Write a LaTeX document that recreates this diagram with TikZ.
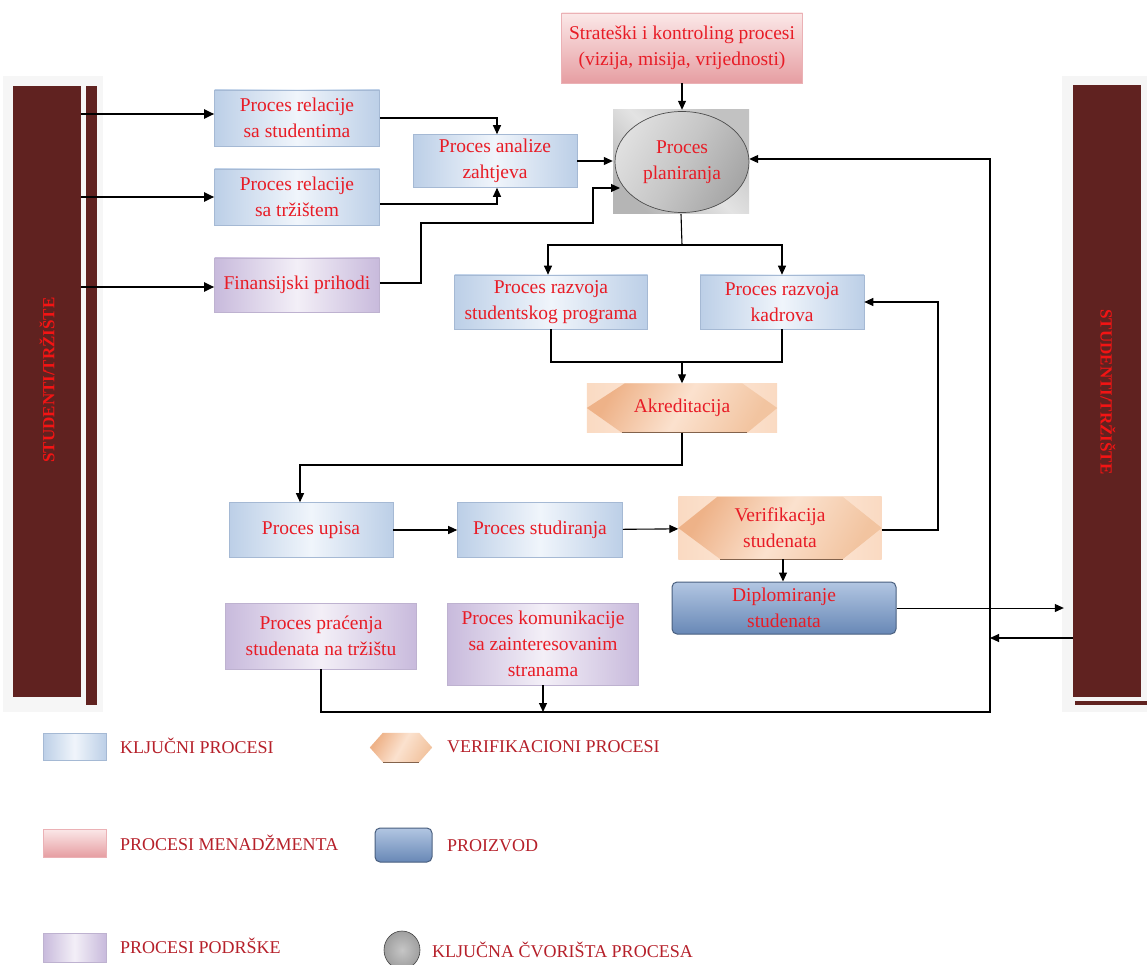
\documentclass[tikz,border=0pt]{standalone}
\usepackage{fontspec}
\setmainfont{Liberation Serif}
\usetikzlibrary{arrows.meta,shapes.geometric,calc}
\pgfdeclarelayer{background}
\pgfsetlayers{background,main}

\definecolor{txtred}{RGB}{232,28,38}
\definecolor{legred}{RGB}{182,32,42}
\definecolor{barc}{RGB}{96,34,32}
\definecolor{bartxt}{RGB}{242,20,20}
\definecolor{blueA}{RGB}{240,245,251}
\definecolor{blueB}{RGB}{188,207,231}
\definecolor{blueEdge}{RGB}{165,185,212}
\definecolor{pinkA}{RGB}{251,232,232}
\definecolor{pinkB}{RGB}{230,158,162}
\definecolor{purA}{RGB}{243,239,247}
\definecolor{purB}{RGB}{200,186,220}
\definecolor{purEdge}{RGB}{190,178,208}
\definecolor{orA}{RGB}{250,218,194}
\definecolor{orB}{RGB}{238,178,136}
\definecolor{orC}{RGB}{242,196,160}
\definecolor{prodA}{RGB}{178,198,226}
\definecolor{prodB}{RGB}{104,136,182}

\newcommand\boxfont{\fontsize{19.5}{26}\selectfont}
\newcommand\legfont{\fontsize{18}{20}\selectfont}

\begin{document}
\begin{tikzpicture}[x=1pt,y=-1pt,
  proc/.style={rectangle, align=center, text=txtred, font=\boxfont, inner sep=1pt},
  keyp/.style={proc, draw=blueEdge, line width=0.6pt,
    left color=blueB, right color=blueB, middle color=blueA},
  mgmt/.style={proc, draw=pinkB!80!white, line width=0.6pt,
    top color=pinkA, bottom color=pinkB},
  supp/.style={proc, draw=purEdge, line width=0.6pt,
    left color=purB, right color=purB, middle color=purA},
  prod/.style={proc, rounded corners=5pt, draw=prodB!70!black, line width=1pt,
    top color=prodA, bottom color=prodB},
  verif/.style={proc},
  barbox/.style={rectangle, fill=barc, inner sep=0pt},
  bartext/.style={text=bartxt, font=\fontsize{17}{18}\selectfont\bfseries, inner sep=0pt},
  legtext/.style={anchor=west, text=legred, font=\legfont, inner sep=0pt},
  arr/.style={draw=black, line width=1.1pt, -{Triangle[length=9pt,width=8pt]}},
  arrthick/.style={draw=black, line width=2pt, -{Triangle[length=10pt,width=9pt]}},
  link/.style={draw=black, line width=1.1pt},
  hexlight/.style={left color=orA, right color=orA, middle color=orA!50!white},
  hexdark/.style={left color=orB, right color=orC, middle color=orA!80!white, shading angle=60},
]
\useasboundingbox (0,0) rectangle (1147,965);
\begin{pgfonlayer}{background}
  \fill[white] (0,0) rectangle (1147,965);
\end{pgfonlayer}

% side panels
\fill[gray!7] (3,76) rectangle (103,712);
\fill[red!3!gray!8] (1062,76) rectangle (1147,712);
\node[barbox, minimum width=68pt, minimum height=611pt] (lbar) at (47,391.5) {};
\fill[barc] (86,86) rectangle (97,705);
\node[barbox, minimum width=68pt, minimum height=612pt] (rbar) at (1107,391) {};
\fill[barc] (1075,701) rectangle (1147,705);
\node[bartext, rotate=90] (ltxt) at (47,380) {STUDENTI/TRŽIŠTE};
\node[bartext, rotate=-90] (rtxt) at (1108,392) {STUDENTI/TRŽIŠTE};

% process boxes
\node[keyp, minimum width=165pt, minimum height=56pt] (rs) at (297,118) {Proces relacije\\sa studentima};
\node[keyp, minimum width=165pt, minimum height=56pt] (rt) at (297,197) {Proces relacije\\sa tržištem};
\node[supp, minimum width=165pt, minimum height=54pt] (fin) at (297,285) {Finansijski prihodi};
\node[keyp, minimum width=164pt, minimum height=53pt] (anz) at (495,161) {Proces analize\\zahtjeva};
\node[mgmt, minimum width=241pt, minimum height=70pt] (strat) at (682,48) {Strateški i kontroling procesi\\(vizija, misija, vrijednosti)};

% planning hub
\node[rectangle, minimum width=136pt, minimum height=104pt, inner sep=0pt,
  left color=gray!58, right color=gray!48, middle color=gray!22, shading angle=135] (plansq) at (681,162) {};
\node[ellipse, minimum width=134pt, minimum height=101pt, inner sep=0pt,
  left color=gray!25, right color=gray!70, middle color=gray!45, shading angle=60,
  draw=gray!60!black, line width=0.7pt,
  align=center, text=txtred, font=\boxfont] (plan) at (682,162) {Proces\\planiranja};

\node[keyp, minimum width=193pt, minimum height=54pt] (rsp) at (551,302) {Proces razvoja\\studentskog programa};
\node[keyp, minimum width=164pt, minimum height=54pt] (rkd) at (782,302) {Proces razvoja\\kadrova};
\node[verif, minimum width=190pt, minimum height=49pt] (akr) at (682,408) {Akreditacija};
\node[keyp, minimum width=164pt, minimum height=55pt] (upis) at (311,530) {Proces upisa};
\node[keyp, minimum width=165pt, minimum height=55pt] (stud) at (540,530) {Proces studiranja};
\node[verif, minimum width=203pt, minimum height=62pt] (ver) at (780,528) {Verifikacija\\studenata};
\node[prod, minimum width=224pt, minimum height=52pt] (dip) at (784,608) {Diplomiranje\\studenata};
\node[supp, minimum width=191pt, minimum height=66pt] (prac) at (321,636) {Proces praćenja\\studenata na tržištu};
\node[supp, minimum width=191pt, minimum height=82pt] (kom) at (543,644) {Proces komunikacije\\sa zainteresovanim\\stranama};

% hexagonal verification shapes, painted behind their labels
\begin{pgfonlayer}{background}
  \shade[hexlight] (akr.south west) rectangle (akr.north east);
  \shade[hexdark] (akr.west) -- ($(akr.north west)+(38,0)$) -- ($(akr.north east)+(-35,0)$)
    -- (akr.east) -- ($(akr.south east)+(-30,0)$) -- ($(akr.south west)+(35,0)$) -- cycle;
  \draw[orB!55!black, line width=1.2pt] ($(akr.south east)+(-30,0)$) -- ($(akr.south west)+(35,0)$);
  \shade[hexlight] (ver.south west) rectangle (ver.north east);
  \shade[hexdark] (ver.west) -- ($(ver.north west)+(39,0)$) -- ($(ver.north east)+(-39,0)$)
    -- (ver.east) -- ($(ver.south east)+(-39,0)$) -- ($(ver.south west)+(42,0)$) -- cycle;
  \draw[orB!55!black, line width=1.2pt] ($(ver.south east)+(-39,0)$) -- ($(ver.south west)+(42,0)$);
\end{pgfonlayer}

% inputs from the left panel
\draw[arrthick] ([yshift=4pt]lbar.east |- rs.west) -- ([yshift=4pt]rs.west);
\draw[arrthick] (lbar.east |- rt.west) -- (rt.west);
\draw[arrthick] ([yshift=-2pt]lbar.east |- fin.west) -- ([yshift=-2pt]fin.west);

% towards analysis and planning
\draw[arr] (rs.east) -| ([xshift=2pt]anz.north);
\draw[arr] ([yshift=-7pt]rt.east) -| ([xshift=2pt]anz.south);
\coordinate (fa) at (421,223);
\coordinate (fb) at (593,188);
\coordinate (fc) at (620,188);
\draw[arr] ([yshift=2pt]fin.east) -| (fa) -| (fb) -- (fc);
\draw[arr] (anz.east) -- (anz.east -| plansq.west);
\draw[arr] (strat.south) -- (strat.south |- plansq.north);

% planning to development
\coordinate (pd) at (682,245);
\draw[link] (plansq.south) -- (pd);
\draw[arr] (pd) -| ([xshift=-3pt]rsp.north);
\draw[arr] (pd) -| (rkd.north);
\coordinate (mg) at (682,362);
\draw[link] (rsp.south) |- (mg);
\draw[link] (rkd.south) |- (mg);
\draw[arr] (mg) -- (akr.north);

% study flow
\coordinate (au) at (682,465);
\draw[arr] (akr.south) -- (au) -| ([xshift=-11pt]upis.north);
\draw[arr] (upis) -- (stud);
\draw[arr] (stud) -- (ver);
\coordinate (vk) at (938,530);
\draw[arr] ([yshift=-2pt]ver.east) -- (vk) |- (rkd.east);
\draw[arr] ([xshift=3pt]ver.south) -- ([xshift=3pt]ver.south |- dip.north);

% outputs and feedback
\draw[arr, line width=1pt] (dip.east) -- ([xshift=-9pt]dip.east -| rbar.west);
\coordinate (fr) at (990,712);
\coordinate (rin) at (1073,638);
\draw[arr] (rin) -- (fr |- rin);
\draw[arr] (prac.south) |- (fr) |- ([yshift=3pt]plansq.east);
\draw[arr] (kom.south) -- (kom.south |- fr);

% legend
\node[keyp, minimum width=63pt, minimum height=27pt] (lk) at (74.5,746.5) {};
\node[legtext] (lkt) at (120,746) {KLJUČNI PROCESI};
\node[mgmt, minimum width=63pt, minimum height=28pt] (lm) at (74.5,843) {};
\node[legtext] (lmt) at (120,843) {PROCESI MENADŽMENTA};
\node[supp, minimum width=63pt, minimum height=29pt] (ls) at (74.5,947.5) {};
\node[legtext] (lst) at (120,946) {PROCESI PODRŠKE};
\node[verif, minimum width=62pt, minimum height=29pt] (lv) at (401,747.5) {};
\begin{pgfonlayer}{background}
  \shade[hexdark] (lv.west) -- ($(lv.north west)+(13,0)$) -- ($(lv.north east)+(-13,0)$)
    -- (lv.east) -- ($(lv.south east)+(-13,0)$) -- ($(lv.south west)+(13,0)$) -- cycle;
  \draw[orB!55!black, line width=1.2pt] ($(lv.south east)+(-13,0)$) -- ($(lv.south west)+(13,0)$);
\end{pgfonlayer}
\node[legtext] (lvt) at (447,747) {VERIFIKACIONI PROCESI};
\node[prod, minimum width=57pt, minimum height=34pt] (lp) at (403.5,845) {};
\node[legtext] (lpt) at (447,846) {PROIZVOD};
\node[ellipse, minimum width=36pt, minimum height=38pt, inner sep=0pt,
  inner color=gray!45, outer color=gray!75, draw=gray!50!black, line width=0.6pt] (lc) at (402,950) {};
\node[legtext] (lct) at (432,950) {KLJUČNA ČVORIŠTA PROCESA};
\end{tikzpicture}
\end{document}
